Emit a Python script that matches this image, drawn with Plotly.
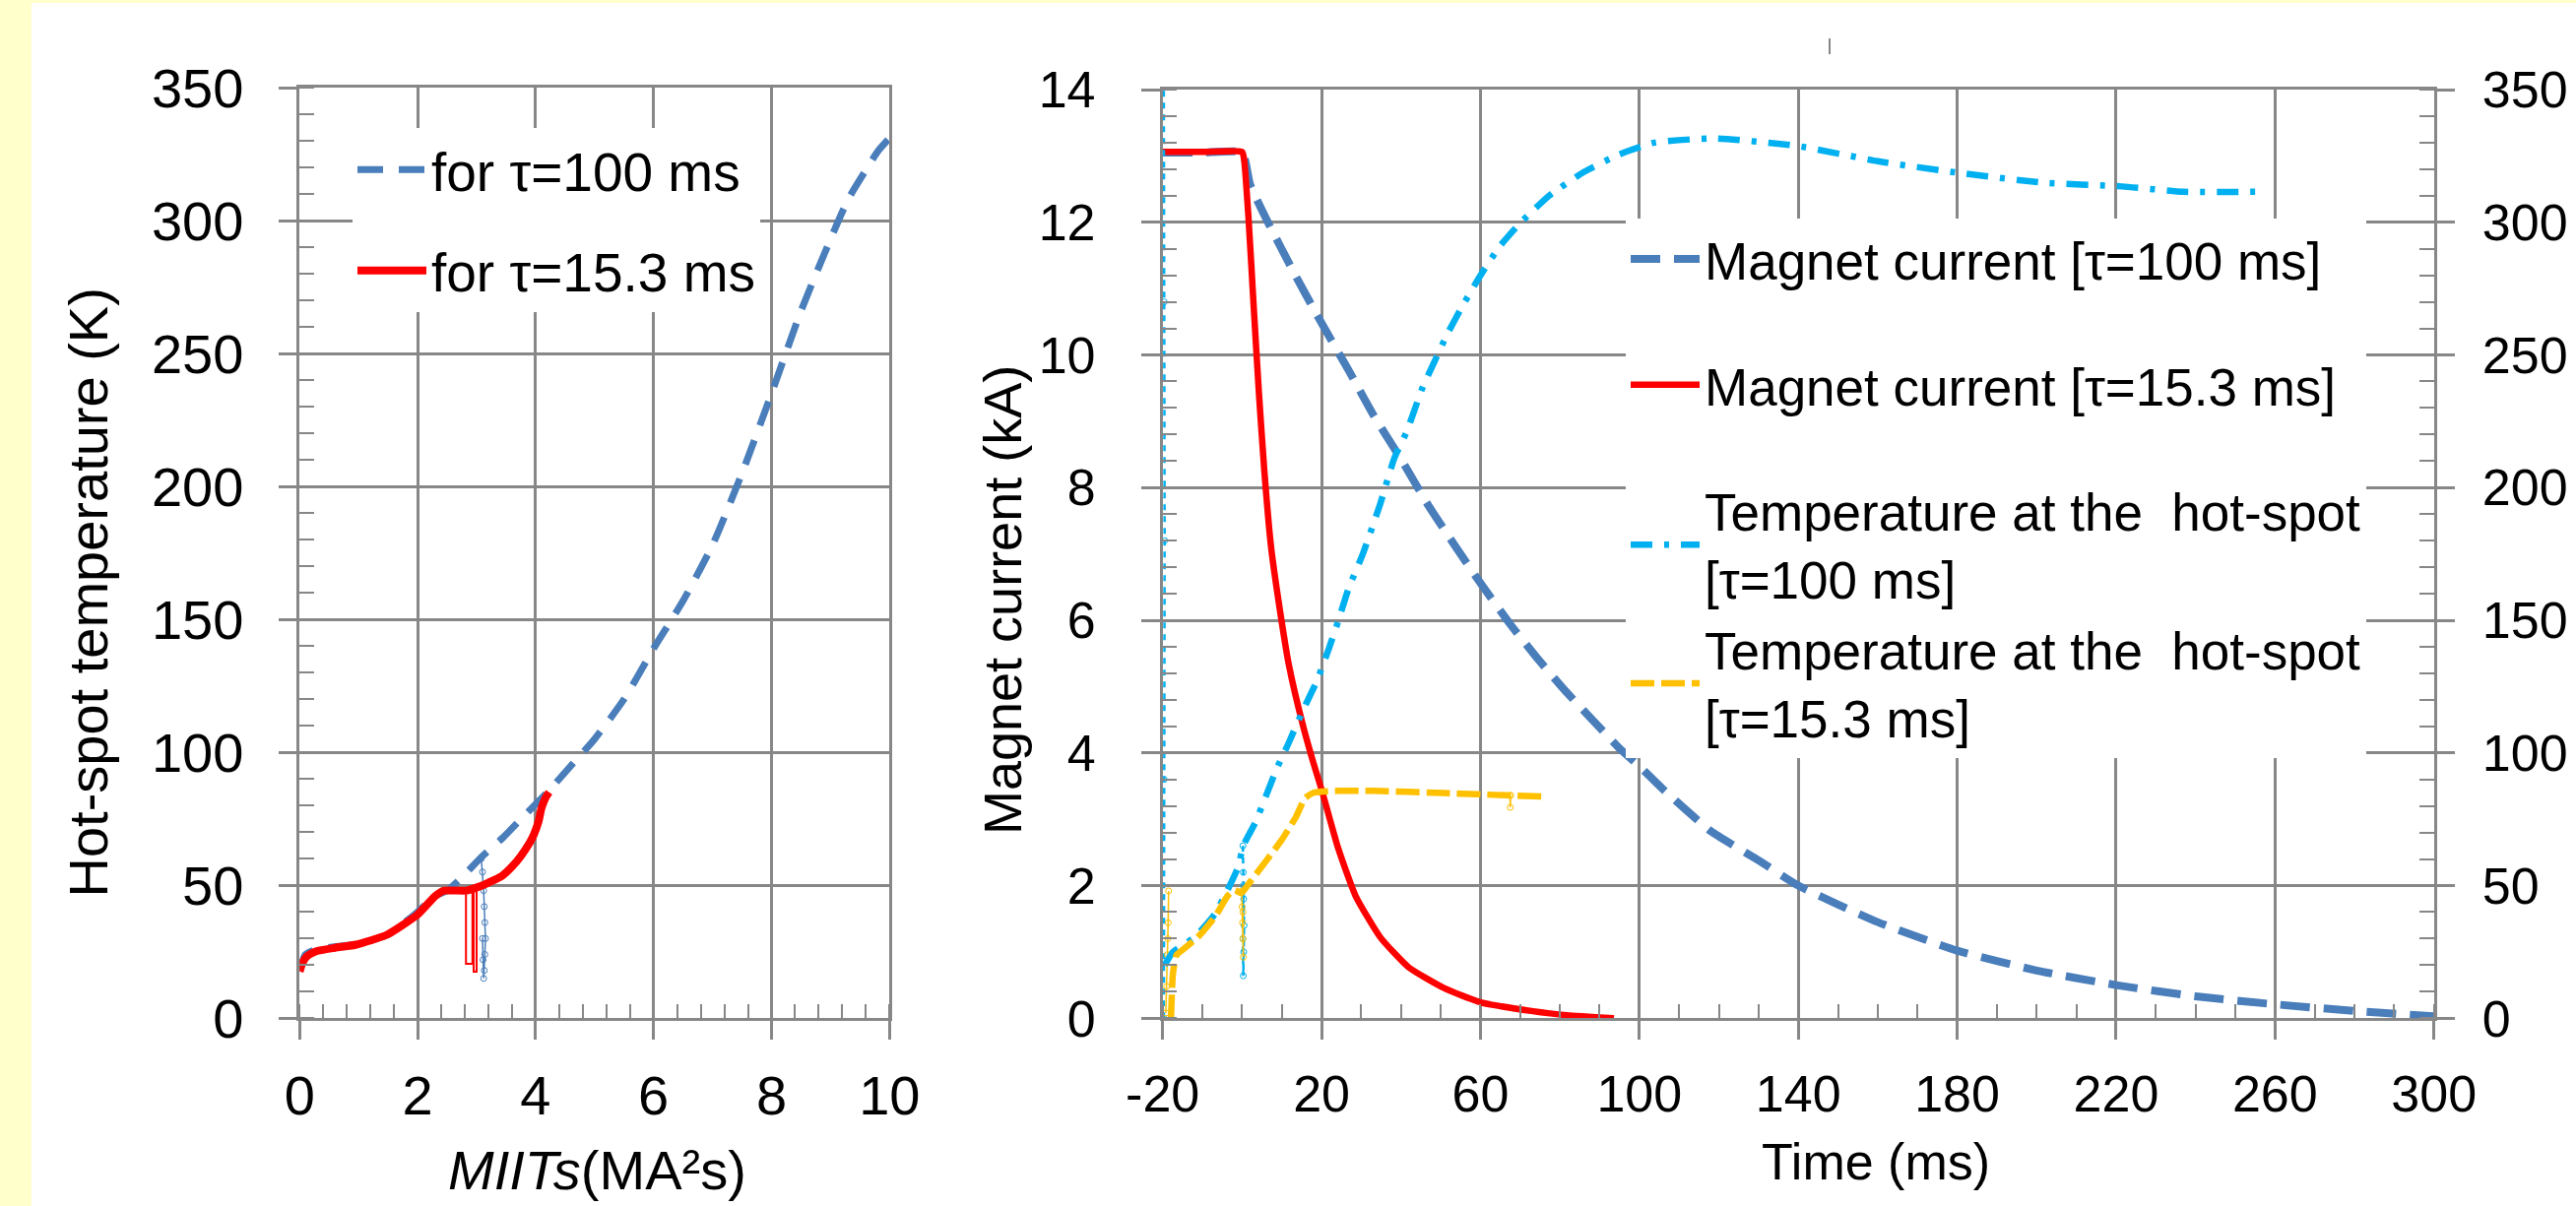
import plotly.graph_objects as go

W, H = 2616, 1225

# ---------------- Left panel: hot-spot temperature vs MIITs ----------------
MIITS_TAU100 = [0, 0.1, 0.3, 1.0, 1.5, 2.0, 2.3, 2.5, 2.75, 3.1, 3.45, 3.8, 4.2, 4.6, 5.0, 5.5,
                6.0, 6.5, 7.0, 7.5, 8.0, 8.5, 9.0, 9.3, 9.6, 9.8, 10.0]
TEMP_TAU100 = [18, 24, 26, 28, 31.5, 40, 46, 48, 53, 61, 68, 76, 85, 95, 105, 120,
               139, 157, 178, 205, 235, 266, 293, 308, 319, 326, 331]
MIITS_TAU15 = [0, 0.05, 0.13, 0.28, 0.6, 0.96, 1.48, 2.0, 2.3, 2.45, 2.82, 3.03, 3.2, 3.43,
               3.6, 3.75, 3.9, 3.97, 4.05, 4.1, 4.17, 4.23]
TEMP_TAU15 = [17.6, 21, 23.4, 25.2, 26.5, 27.7, 31.4, 39, 46, 48, 48, 49.4, 51, 53.5,
              57, 61, 66, 69, 74, 79, 83, 85]
MIITS_SPIKE15 = [2.82, 2.82, 2.93, 2.93, 2.95, 2.95, 3.0, 3.0]
TEMP_SPIKE15 = [48, 20.5, 20.5, 48, 48, 17.5, 17.5, 48]
MIITS_SPIKE100 = [3.08, 3.1, 3.12, 3.13, 3.14, 3.15, 3.14, 3.13, 3.12, 3.11, 3.1]
TEMP_SPIKE100 = [60, 55, 48, 42, 36, 30, 24, 18, 15, 22, 30]

# ---------------- Right panel: current and temperature vs time ----------------
TIME_I100 = [-20, -10, 0, 2, 6.5, 13.5, 20, 26.8, 33, 40, 47, 53.4, 60, 67.5, 74, 81, 88, 95,
             100, 106, 118, 130, 140, 160, 180, 200, 220, 240, 260, 280, 300]
CUR_I100 = [13.05, 13.05, 13.05, 12.57, 12.0, 11.19, 10.48, 9.77, 9.1, 8.43, 7.72, 7.14, 6.56,
            5.94, 5.45, 4.96, 4.51, 4.07, 3.8, 3.45, 2.82, 2.38, 2.0, 1.45, 1.02, 0.72, 0.5,
            0.33, 0.21, 0.11, 0.03]
TIME_I15 = [-20, -10, 0, 0.5, 1.6, 2.9, 4.25, 5.6, 7.3, 9.6, 11.8, 15.3, 18, 20, 24.2, 28.6,
            34.8, 41.9, 50.7, 60, 72.8, 81.7, 93.6]
CUR_I15 = [13.06, 13.06, 13.06, 12.95, 12.08, 10.75, 9.41, 8.25, 7.1, 6.12, 5.32, 4.42, 3.84,
           3.45, 2.56, 1.84, 1.22, 0.77, 0.46, 0.24, 0.11, 0.045, 0.0]
TIME_T100 = [-19.5, -17.4, -12, -6.8, -3.3, -1, 0.3, 3.4, 8.7, 11.8, 15.3, 18.8, 21.9, 24.2,
             26.8, 30.4, 34.8, 38.3, 41.4, 45.4, 48.5, 51.6, 55.6, 60, 64.9, 70.2, 77.3, 86.1,
             95, 103.8, 118.7, 139.6, 160, 180.5, 201, 221.5, 237, 255]
TEMP_T100 = [20, 25, 30.5, 39.4, 49.4, 57, 65, 74, 94, 104, 116, 127, 139.6, 149.7, 162, 175,
             194, 211, 221, 237.6, 247.7, 257.7, 268.8, 280, 291, 300, 310, 319, 325.6, 330,
             331.6, 328.8, 323, 318.6, 315, 313.5, 311.5, 311.5]
TIME_T15 = [-17.9, -17.4, -16.5, -14.8, -11.2, -6.8, -3.7, -1.9, -0.2, 1.6, 5.6, 10, 13.6,
            15.8, 18, 24.2, 33, 50.7, 59.6, 67.5, 76.8]
TEMP_T15 = [0, 17, 23.8, 26, 30.5, 38.3, 46, 48.3, 47.2, 50.6, 58.4, 67.3, 76, 82.9, 85, 85.7,
            85.7, 84.9, 84.4, 84, 83.5]
# measurement noise (spikes); None separates clusters
TIME_NOISE_C = [-19.7, -19.6, -19.5, -19.6, -19.7, None, 0.2, 0.3, 0.4, 0.5, 0.4, 0.3, 0.2, 0.3]
TEMP_NOISE_C = [0, 90, 180, 270, 352, None, 65, 55, 45, 35, 25, 16, 30, 50]
TIME_NOISE_Y = [-19.2, -19.0, -18.8, -18.6, -18.5, -18.7, None, -0.1, 0.0, 0.1, 0.2, 0.3, 0.2,
                None, 67.4, 67.5, 67.6]
TEMP_NOISE_Y = [2, 12, 24, 36, 48, 30, None, 48, 42, 36, 30, 23, 40, None, 84, 79.5, 84]

LEFT_XTICKS = [0, 2, 4, 6, 8, 10]
LEFT_YTICKS = [0, 50, 100, 150, 200, 250, 300, 350]
RIGHT_XTICKS = [-20, 20, 60, 100, 140, 180, 220, 260, 300]
RIGHT_XTICK_LABELS = ["-20", "20", "60", "100", "140", "180", "220", "260", "300"]
RIGHT_YTICKS_I = [0, 2, 4, 6, 8, 10, 12, 14]
RIGHT_YTICKS_T = [0, 50, 100, 150, 200, 250, 300, 350]

BLUE = "#4A7EBB"
RED = "#FF0000"
CYAN = "#00B0F0"
GOLD = "#FFC000"
GRAY = "#878787"
YELLOW_BG = "#FFFFCC"

FONT = "Liberation Sans, Arial, sans-serif"


def px_x(p):
    return p / W


def px_y(p):
    return 1 - p / H


fig = go.Figure()

# left panel
fig.add_trace(go.Scatter(x=MIITS_TAU100, y=TEMP_TAU100, mode="lines", name="for τ=100 ms",
                         line=dict(color=BLUE, width=7, dash="26px,16px", shape="spline", smoothing=0.6),
                         xaxis="x", yaxis="y", legend="legend", legendgroup="a"))
fig.add_trace(go.Scatter(x=MIITS_SPIKE100, y=TEMP_SPIKE100, mode="lines+markers", showlegend=False,
                         line=dict(color=BLUE, width=1.5),
                         marker=dict(symbol="circle-open", size=6, color=BLUE),
                         xaxis="x", yaxis="y"))
fig.add_trace(go.Scatter(x=MIITS_SPIKE15, y=TEMP_SPIKE15, mode="lines", showlegend=False,
                         line=dict(color=RED, width=2), xaxis="x", yaxis="y"))
fig.add_trace(go.Scatter(x=MIITS_TAU15, y=TEMP_TAU15, mode="lines", name="for τ=15.3 ms",
                         line=dict(color=RED, width=8, shape="spline", smoothing=0.5),
                         xaxis="x", yaxis="y", legend="legend", legendgroup="b"))

# right panel
fig.add_trace(go.Scatter(x=TIME_NOISE_C, y=TEMP_NOISE_C, mode="lines+markers", showlegend=False,
                         line=dict(color=CYAN, width=2.5, dash="6px,6px"),
                         marker=dict(symbol="circle-open", size=6, color=CYAN),
                         xaxis="x2", yaxis="y3"))
fig.add_trace(go.Scatter(x=TIME_NOISE_Y, y=TEMP_NOISE_Y, mode="lines+markers", showlegend=False,
                         line=dict(color=GOLD, width=1.5),
                         marker=dict(symbol="circle-open", size=6, color=GOLD),
                         xaxis="x2", yaxis="y3"))
fig.add_trace(go.Scatter(x=TIME_I100, y=CUR_I100, mode="lines", name="Magnet current [τ=100 ms]",
                         line=dict(color=BLUE, width=8, dash="30px,14px", shape="spline", smoothing=0.5),
                         xaxis="x2", yaxis="y2", legend="legend2", legendgroup="c"))
fig.add_trace(go.Scatter(x=TIME_I15, y=CUR_I15, mode="lines", name="Magnet current [τ=15.3 ms]",
                         line=dict(color=RED, width=6.5, shape="spline", smoothing=0.5),
                         xaxis="x2", yaxis="y2", legend="legend2", legendgroup="d"))
fig.add_trace(go.Scatter(x=TIME_T100, y=TEMP_T100, mode="lines",
                         name="Temperature at the  hot-spot<br>[τ=100 ms]",
                         line=dict(color=CYAN, width=6.5, dash="22px,12px,5px,12px", shape="spline", smoothing=0.5),
                         xaxis="x2", yaxis="y3", legend="legend2", legendgroup="e"))
fig.add_trace(go.Scatter(x=TIME_T15, y=TEMP_T15, mode="lines",
                         name="Temperature at the  hot-spot<br>[τ=15.3 ms]",
                         line=dict(color=GOLD, width=6.5, dash="24px,7px", shape="spline", smoothing=0.5),
                         xaxis="x2", yaxis="y3", legend="legend2", legendgroup="e"))

axis_common = dict(showgrid=True, gridcolor=GRAY, gridwidth=2.5, showline=True, linecolor=GRAY,
                   linewidth=2.5, mirror=True, ticks="outside", ticklen=19, tickwidth=2.5,
                   tickcolor=GRAY, zeroline=False, color="black", automargin=False)

left_dom_x = [px_x(304.3), px_x(903.3)]
left_dom_y = [px_y(1034.3), px_y(89)]
right_dom_x = [px_x(1180.7), px_x(2471.7)]
right_dom_y = [px_y(1034.3), px_y(91)]

fig.update_layout(
    template="none",
    width=W, height=H, margin=dict(l=0, r=0, t=0, b=0, autoexpand=False),
    paper_bgcolor="white", plot_bgcolor="white",
    font=dict(family=FONT, color="black"),
    xaxis=dict(domain=left_dom_x, range=[0, 10], tickvals=LEFT_XTICKS, anchor="y",
               tickfont=dict(size=56, family=FONT), ticklabelstandoff=9,
               minor=dict(dtick=0.4, tick0=0, ticks="inside", ticklen=15, tickwidth=2,
                          tickcolor=GRAY, showgrid=False),
               **axis_common),
    yaxis=dict(domain=left_dom_y, range=[0, 350], tickvals=LEFT_YTICKS, anchor="x",
               tickfont=dict(size=56, family=FONT), ticklabelstandoff=24,
               minor=dict(dtick=10, tick0=0, ticks="inside", ticklen=15, tickwidth=2,
                          tickcolor=GRAY, showgrid=False),
               **axis_common),
    xaxis2=dict(domain=right_dom_x, range=[-20, 300], tickvals=RIGHT_XTICKS,
                ticktext=RIGHT_XTICK_LABELS, anchor="y2",
                tickfont=dict(size=52, family=FONT), ticklabelstandoff=11,
                minor=dict(dtick=10, tick0=-20, ticks="inside", ticklen=15, tickwidth=2,
                           tickcolor=GRAY, showgrid=False),
                **axis_common),
    yaxis2=dict(domain=right_dom_y, range=[0, 14], tickvals=RIGHT_YTICKS_I, anchor="x2",
                tickfont=dict(size=52, family=FONT), ticklabelstandoff=36,
                minor=dict(dtick=0.4, tick0=0, ticks="inside", ticklen=15, tickwidth=2,
                           tickcolor=GRAY, showgrid=False),
                **axis_common),
    yaxis3=dict(range=[0, 350], tickvals=RIGHT_YTICKS_T, anchor="x2", overlaying="y2", side="right",
                tickfont=dict(size=52, family=FONT), ticklabelstandoff=17, automargin=False,
                showgrid=False, showline=True, linecolor=GRAY, linewidth=2.5, color="black",
                ticks="outside", ticklen=19, tickwidth=2.5, tickcolor=GRAY, zeroline=False,
                minor=dict(dtick=10, tick0=0, ticks="inside", ticklen=15, tickwidth=2,
                           tickcolor=GRAY, showgrid=False)),
    legend=dict(x=px_x(358), y=px_y(130), xanchor="left", yanchor="top", bgcolor="white",
                borderwidth=0, font=dict(size=55, family=FONT), itemwidth=70,
                tracegroupgap=28, traceorder="grouped"),
    legend2=dict(x=px_x(1651), y=px_y(222), xanchor="left", yanchor="top", bgcolor="white",
                 borderwidth=0, font=dict(size=53, family=FONT), itemwidth=70,
                 tracegroupgap=56, traceorder="grouped"),
    shapes=[
        dict(type="rect", xref="paper", yref="paper", x0=0, x1=px_x(32), y0=0, y1=1,
             fillcolor=YELLOW_BG, line=dict(width=0), layer="below"),
        dict(type="rect", xref="paper", yref="paper", x0=0, x1=1, y0=px_y(3), y1=1,
             fillcolor=YELLOW_BG, line=dict(width=0), layer="below"),
        dict(type="line", xref="paper", yref="paper", x0=px_x(1858), x1=px_x(1858),
             y0=px_y(39), y1=px_y(55), line=dict(color=GRAY, width=2)),
    ],
    annotations=[
        dict(text="Hot-spot temperature (K)", xref="paper", yref="paper", x=px_x(88.5),
             y=px_y(602), textangle=-90, showarrow=False, font=dict(size=56, family=FONT),
             xanchor="center", yanchor="middle"),
        dict(text="<i>MIITs</i>(MA²s)", xref="paper", yref="paper", x=px_x(606.7),
             y=px_y(1188), showarrow=False, font=dict(size=56, family=FONT),
             xanchor="center", yanchor="middle"),
        dict(text="Magnet current (kA)", xref="paper", yref="paper", x=px_x(1018),
             y=px_y(610), textangle=-90, showarrow=False, font=dict(size=54, family=FONT),
             xanchor="center", yanchor="middle"),
        dict(text="Time (ms)", xref="paper", yref="paper", x=px_x(1905),
             y=px_y(1180), showarrow=False, font=dict(size=52, family=FONT),
             xanchor="center", yanchor="middle"),
    ],
)

fig.write_html("out.html", config={"displayModeBar": False},
               post_script="document.body.style.margin='0';document.body.style.overflow='hidden';")
